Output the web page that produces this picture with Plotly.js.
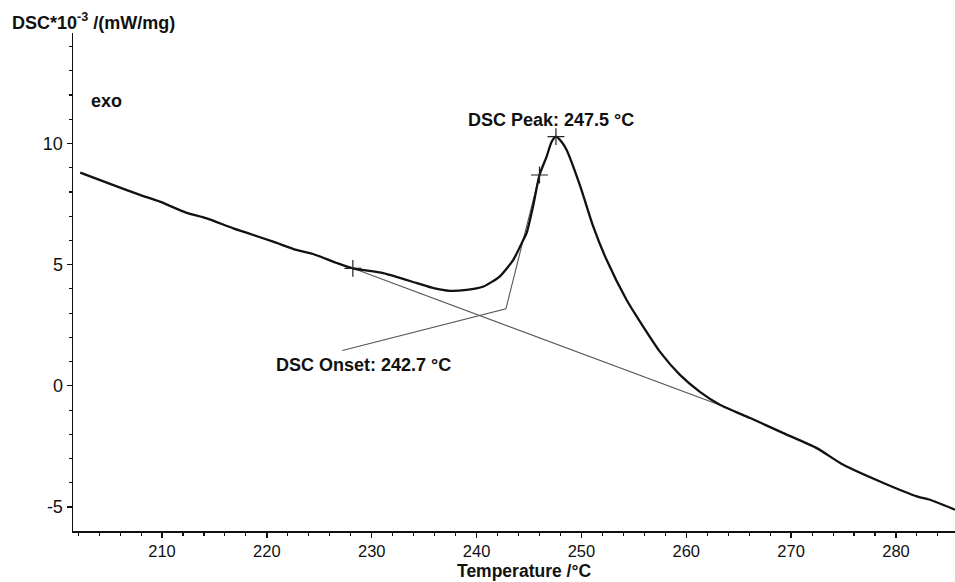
<!DOCTYPE html>
<html>
<head>
<meta charset="utf-8">
<script src="https://cdn.plot.ly/plotly-3.0.1.min.js"></script>
<style>html,body{margin:0;padding:0;background:#fff}#chart{width:955px;height:582px}</style>
</head>
<body>
<div id="chart"></div>
<script>
// DSC curve (temperature in °C, DSC in 10^-3 mW/mg)
var temperature = [202.2, 205.3, 207.9, 209.8, 212.3, 214.2, 216.8, 218.05, 220.6, 222.8, 224.4, 226.6, 228.2, 231.1, 234.3, 235.9, 237.45, 239.05, 240.6, 242.2, 243.5, 244.45, 244.77, 245.38, 246.0, 246.68, 247.16, 247.57, 248.1, 248.59, 249.9, 251.13, 252.4, 254.3, 255.6, 257.5, 259.4, 261.3, 263.2, 266.1, 269.26, 272.44, 274.98, 278.8, 281.98, 283.25, 285.63];
var dsc = [8.80, 8.29, 7.88, 7.60, 7.15, 6.92, 6.50, 6.32, 5.95, 5.61, 5.44, 5.08, 4.85, 4.65, 4.24, 4.03, 3.92, 3.96, 4.09, 4.51, 5.20, 6.02, 6.30, 7.39, 8.70, 9.46, 10.07, 10.28, 10.07, 9.73, 8.22, 6.57, 5.20, 3.55, 2.64, 1.40, 0.45, -0.25, -0.78, -1.33, -1.95, -2.57, -3.26, -4.01, -4.56, -4.70, -5.11];

// evaluation marks (+)
var markTemp = [228.2, 246.0, 247.57];
var markDsc = [4.85, 8.70, 10.28];

// baseline construction
var baseTemp = [228.2, 263.0];
var baseDsc = [4.85, -0.76];

// onset tangent and leader line to label
var onsetTemp = [246.0, 242.8, 227.2];
var onsetDsc = [8.70, 3.18, 1.46];

// labels
var peakLabel = 'DSC Peak: 247.5 °C';
var onsetLabel = 'DSC Onset: 242.7 °C';

var xTicks = [210, 220, 230, 240, 250, 260, 270, 280];
var xTickText = ['210', '220', '230', '240', '250', '260', '270', '280'];
var yTicks = [-5, 0, 5, 10];
var yTickText = ['-5', '0', '5', '10'];

var FONT = 'Liberation Sans, Arial, sans-serif';

var traces = [
  {x: baseTemp, y: baseDsc, mode: 'lines', line: {color: '#555', width: 1.1}, hoverinfo: 'skip'},
  {x: onsetTemp, y: onsetDsc, mode: 'lines', line: {color: '#555', width: 1.1}, hoverinfo: 'skip'},
  {x: temperature, y: dsc, mode: 'lines', line: {color: '#111', width: 2.3, shape: 'spline', smoothing: 0.6}},
  {x: markTemp, y: markDsc, mode: 'markers', marker: {symbol: 'cross-thin', size: 12, line: {color: '#222', width: 1.2}}}
];

var layout = {
  width: 955, height: 582,
  margin: {l: 73, r: 0, t: 33, b: 51},
  paper_bgcolor: '#fff', plot_bgcolor: '#fff',
  showlegend: false,
  font: {family: FONT, size: 18, color: '#111'},
  xaxis: {
    range: [201.51, 285.63],
    tickvals: xTicks, ticktext: xTickText,
    ticks: 'outside', ticklen: 5, tickwidth: 1.3, tickcolor: '#111',
    minor: {dtick: 2, tick0: 200, ticks: 'outside', ticklen: 3, tickwidth: 1.1, tickcolor: '#111'},
    showline: true, linecolor: '#111', linewidth: 1.5,
    showgrid: false, zeroline: false,
    tickfont: {family: FONT, size: 16.5, color: '#111'}
  },
  yaxis: {
    range: [-5.99, 14.56],
    tickvals: yTicks, ticktext: yTickText,
    ticks: 'outside', ticklen: 5, tickwidth: 1.3, tickcolor: '#111',
    minor: {dtick: 1, tick0: 0, ticks: 'outside', ticklen: 3, tickwidth: 1.1, tickcolor: '#111'},
    showline: true, linecolor: '#111', linewidth: 1.5,
    showgrid: false, zeroline: false,
    tickfont: {family: FONT, size: 18, color: '#111'}
  },
  annotations: [
    {xref: 'paper', yref: 'paper', x: -0.0714, y: 1.0238, xanchor: 'left', yanchor: 'middle', showarrow: false,
     text: '<b>DSC*10<sup>-3</sup> /(mW/mg)</b>', font: {family: FONT, size: 18, color: '#111'}},
    {xref: 'paper', yref: 'paper', x: 0.511, y: -0.1024, xanchor: 'center', yanchor: 'bottom', showarrow: false, borderpad: 0,
     text: '<b>Temperature /°C</b>', font: {family: FONT, size: 17.5, color: '#111'}},
    {xref: 'x', yref: 'y', x: 203.0, y: 11.75, xanchor: 'left', yanchor: 'middle', showarrow: false,
     text: '<b>exo</b>', font: {family: FONT, size: 18, color: '#111'}},
    {xref: 'x', yref: 'y', x: 247.1, y: 10.95, xanchor: 'center', yanchor: 'middle', showarrow: false,
     text: '<b>' + peakLabel + '</b>', font: {family: FONT, size: 18, color: '#111'}},
    {xref: 'x', yref: 'y', x: 229.26, y: 0.87, xanchor: 'center', yanchor: 'middle', showarrow: false,
     text: '<b>' + onsetLabel + '</b>', font: {family: FONT, size: 18, color: '#111'}}
  ]
};

Plotly.newPlot('chart', traces, layout, {displayModeBar: false, staticPlot: true});
</script>
</body>
</html>
